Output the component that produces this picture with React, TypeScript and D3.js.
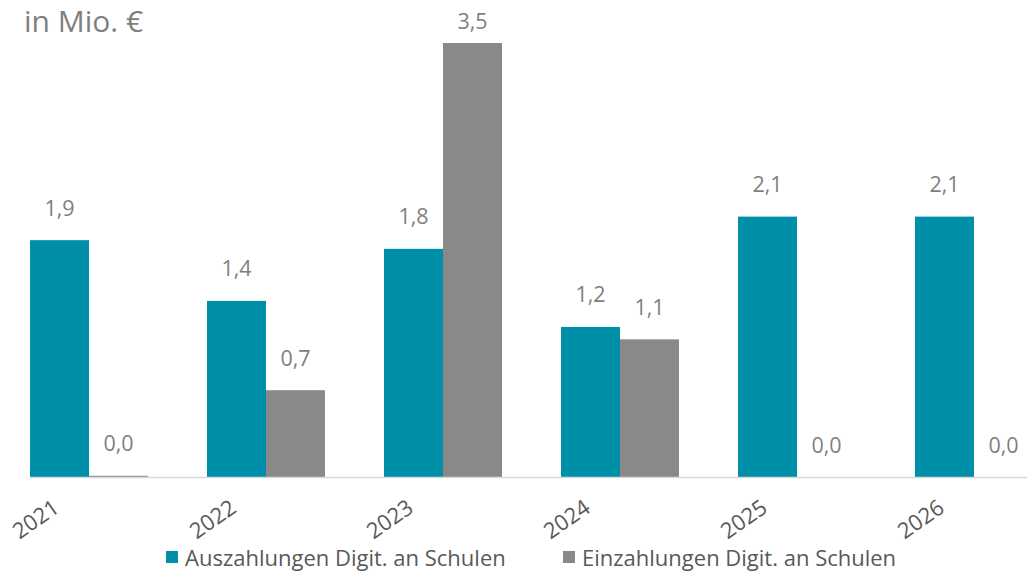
import * as d3 from "d3";

const WIDTH = 1027;
const HEIGHT = 571;
const BASE_Y = 477;
const FONT = "'Open Sans', 'Noto Sans', sans-serif";

const years = ["2021", "2022", "2023", "2024", "2025", "2026"];
const auszahlungen = [1.91, 1.42, 1.84, 1.21, 2.1, 2.1];
const einzahlungen = [0.01, 0.7, 3.5, 1.11, 0, 0];
const seriesNames = ["Auszahlungen Digit. an Schulen", "Einzahlungen Digit. an Schulen"];
const seriesColors = ["#008fa8", "#8a8987"];

export default function App() {
  const x = d3.scaleBand<string>().domain(years).range([0.5, 1062.5]).paddingInner(1 / 3).paddingOuter(1 / 6);
  const y = d3.scaleLinear().domain([0, 3.5]).range([BASE_Y, 43]);
  const inner = d3.scaleBand<number>().domain([0, 1]).range([0, x.bandwidth()]);
  const fmt = (v: number) => d3.format(".1f")(v).replace(".", ",");
  const series = [auszahlungen, einzahlungen];

  return (
    <svg width={WIDTH} height={HEIGHT} style={{ position: "absolute", left: 0, top: 0, background: "#fff" }} fontFamily={FONT}>
      <text x={24} y={32} fontSize={30} fill="#7f7f7f">in Mio. €</text>

      {series.map((vals, si) => (
        <g key={si}>
          {vals.map((v, i) => {
            const bx = (x(years[i]) || 0) + (inner(si) || 0);
            const top = y(v);
            return (
              <g key={i}>
                <rect x={bx} y={top} width={inner.bandwidth()} height={BASE_Y - top} fill={seriesColors[si]} />
                <text
                  x={bx + inner.bandwidth() / 2}
                  y={Math.max(top - 33, 20)}
                  textAnchor="middle"
                  dominantBaseline="central"
                  fontSize={21.5}
                  fill="#7f7f7f"
                >
                  {fmt(v)}
                </text>
              </g>
            );
          })}
        </g>
      ))}

      <line x1={30} x2={WIDTH} y1={BASE_Y + 0.5} y2={BASE_Y + 0.5} stroke="#d9d9d9" strokeWidth={1.5} />

      {years.map((yr) => {
        const cx = (x(yr) || 0) + x.bandwidth() / 2;
        return (
          <text
            key={yr}
            transform={`translate(${cx - 54} ${518}) rotate(-35)`}
            textAnchor="middle"
            dominantBaseline="central"
            fontSize={22}
            fill="#595959"
          >
            {yr}
          </text>
        );
      })}

      {seriesNames.map((name, si) => {
        const lx = si === 0 ? 166 : 563;
        return (
          <g key={name}>
            <rect x={lx} y={551} width={12} height={12} fill={seriesColors[si]} />
            <text x={lx + 19} y={566} fontSize={22} fill="#595959">{name}</text>
          </g>
        );
      })}
    </svg>
  );
}
